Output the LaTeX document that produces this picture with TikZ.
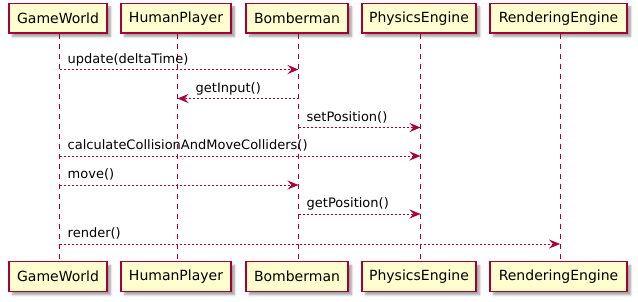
\documentclass[tikz,border=0pt]{standalone}
\usepackage{fontspec}
\setmainfont{DejaVu Sans}
\usetikzlibrary{arrows.meta,shadows.blur}

\definecolor{umlred}{HTML}{A80036}
\definecolor{umlfill}{HTML}{FEFECE}

\tikzset{
  participant/.style={draw=umlred, fill=umlfill, line width=1.2pt,
    minimum height=29.5pt, inner sep=0pt,
    font=\fontsize{14}{16}\selectfont,
    blur shadow={shadow xshift=3.5pt, shadow yshift=-3.5pt,
      shadow blur steps=6, shadow opacity=38}},
  lifeline/.style={draw=umlred, line width=0.9pt, dash pattern=on 5pt off 5pt},
  msg/.style={draw=umlred, line width=0.9pt, dash pattern=on 2pt off 2pt,
    -{Stealth[length=11pt, width=9pt, inset=4pt, fill=umlred]}},
  msgtext/.style={anchor=base west, inner sep=0pt,
    font=\fontsize{13}{15}\selectfont}
}

\begin{document}
\begin{tikzpicture}[x=1pt, y=-1pt]
\useasboundingbox (0,0) rectangle (638,302);

% participants, top row
\node[participant, minimum width=98pt]  (gwT) at (58,18.25)    {GameWorld};
\node[participant, minimum width=110pt] (hpT) at (176,18.25)   {HumanPlayer};
\node[participant, minimum width=102pt] (bmT) at (297,18.25)   {Bomberman};
\node[participant, minimum width=114pt] (peT) at (419,18.25)   {PhysicsEngine};
\node[participant, minimum width=137pt] (reT) at (558.5,18.25) {RenderingEngine};

% participants, bottom row
\node[participant, minimum width=98pt]  (gwB) at (58,276.5)    {GameWorld};
\node[participant, minimum width=110pt] (hpB) at (176,276.5)   {HumanPlayer};
\node[participant, minimum width=102pt] (bmB) at (297,276.5)   {Bomberman};
\node[participant, minimum width=114pt] (peB) at (419,276.5)   {PhysicsEngine};
\node[participant, minimum width=137pt] (reB) at (558.5,276.5) {RenderingEngine};

% lifeline positions
\coordinate (gwX) at ([xshift=1.5pt]gwT.south);
\coordinate (hpX) at ([xshift=1.5pt]hpT.south);
\coordinate (bmX) at ([xshift=1.5pt]bmT.south);
\coordinate (peX) at ([xshift=1.5pt]peT.south);
\coordinate (reX) at ([xshift=1.5pt]reT.south);

% lifelines
\draw[lifeline] (gwX) -- (gwX |- gwB.north);
\draw[lifeline] (hpX) -- (hpX |- hpB.north);
\draw[lifeline] (bmX) -- (bmX |- bmB.north);
\draw[lifeline] (peX) -- (peX |- peB.north);
\draw[lifeline] (reX) -- (reX |- reB.north);

% message rows
\coordinate (r1) at (0,69.5);
\coordinate (r2) at (0,98.5);
\coordinate (r3) at (0,127.5);
\coordinate (r4) at (0,156);
\coordinate (r5) at (0,185);
\coordinate (r6) at (0,214);
\coordinate (r7) at (0,244);

% messages
\draw[msg] (gwX |- r1) -- (bmX |- r1);
\node[msgtext] (t1) at ([xshift=8pt, yshift=6pt]gwX |- r1) {update(deltaTime)};

\draw[msg] (bmX |- r2) -- (hpX |- r2);
\node[msgtext] (t2) at ([xshift=18pt, yshift=5.5pt]hpX |- r2) {getInput()};

\draw[msg] (bmX |- r3) -- (peX |- r3);
\node[msgtext] (t3) at ([xshift=8pt, yshift=6pt]bmX |- r3) {setPosition()};

\draw[msg] (gwX |- r4) -- (peX |- r4);
\node[msgtext] (t4) at ([xshift=8pt, yshift=6pt]gwX |- r4) {calculateCollisionAndMoveColliders()};

\draw[msg] (gwX |- r5) -- (bmX |- r5);
\node[msgtext] (t5) at ([xshift=8pt, yshift=6pt]gwX |- r5) {move()};

\draw[msg] (bmX |- r6) -- (peX |- r6);
\node[msgtext] (t6) at ([xshift=8pt, yshift=6pt]bmX |- r6) {getPosition()};

\draw[msg] (gwX |- r7) -- (reX |- r7);
\node[msgtext] (t7) at ([xshift=8pt, yshift=6pt]gwX |- r7) {render()};
\end{tikzpicture}
\end{document}
